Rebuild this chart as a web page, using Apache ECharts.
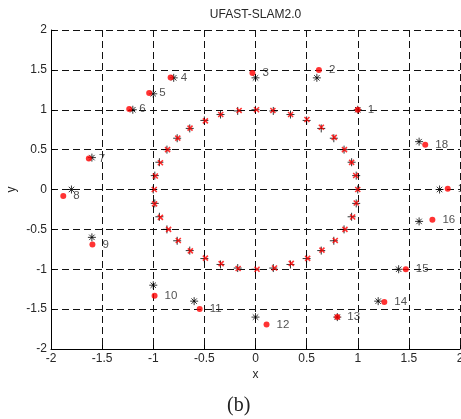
<!DOCTYPE html>
<html>
<head>
<meta charset="utf-8">
<title>UFAST-SLAM2.0</title>
<script src="https://cdn.jsdelivr.net/npm/echarts/dist/echarts.min.js"></script>
<style>
  html, body { margin: 0; padding: 0; background: #fff; }
  #chart { width: 461px; height: 419px; }
</style>
</head>
<body>
<div id="chart"></div>
<script>
// Landmark numbering
var landmarkIds = [1, 2, 3, 4, 5, 6, 7, 8, 9, 10, 11, 12, 13, 14, 15, 16, 17, 18];
// True landmark positions
var landmarkTrueX = [1, 0.6, 0, -0.8, -1, -1.2, -1.6, -1.8, -1.6, -1, -0.6, 0, 0.8, 1.2, 1.4, 1.6, 1.8, 1.6];
var landmarkTrueY = [1, 1.4, 1.4, 1.4, 1.2, 1, 0.4, 0, -0.6, -1.2, -1.4, -1.6, -1.6, -1.4, -1, -0.4, 0, 0.6];
// Estimated landmark positions
var landmarkEstX = [1.0, 0.62, -0.03, -0.83, -1.04, -1.235, -1.63, -1.88, -1.595, -0.987, -0.546, 0.108, 0.8, 1.26, 1.47, 1.73, 1.88, 1.66];
var landmarkEstY = [1.0, 1.5, 1.46, 1.405, 1.21, 1.01, 0.39, -0.08, -0.69, -1.333, -1.497, -1.694, -1.6, -1.41, -1.0, -0.38, 0.01, 0.56];

// True robot path
var pathTrueX = [1, 0.985, 0.94, 0.866, 0.766, 0.643, 0.5, 0.342, 0.174, 0, -0.174, -0.342, -0.5, -0.643, -0.766, -0.866, -0.94, -0.985,
                 -1, -0.985, -0.94, -0.866, -0.766, -0.643, -0.5, -0.342, -0.174, 0, 0.174, 0.342, 0.5, 0.643, 0.766, 0.866, 0.94, 0.985];
var pathTrueY = [0, 0.174, 0.342, 0.5, 0.643, 0.766, 0.866, 0.94, 0.985, 1, 0.985, 0.94, 0.866, 0.766, 0.643, 0.5, 0.342, 0.174,
                 0, -0.174, -0.342, -0.5, -0.643, -0.766, -0.866, -0.94, -0.985, -1, -0.985, -0.94, -0.866, -0.766, -0.643, -0.5, -0.342, -0.174];
// Estimated robot path
var pathEstX = [1.0, 0.98, 0.94, 0.87, 0.77, 0.644, 0.503, 0.343, 0.17, 0.01, -0.16, -0.34, -0.49, -0.64, -0.76, -0.86, -0.93, -0.98,
                -0.99, -0.987, -0.93, -0.85, -0.755, -0.637, -0.49, -0.336, -0.17, 0.015, 0.186, 0.35, 0.51, 0.65, 0.78, 0.875, 0.95, 0.985];
var pathEstY = [0.0, 0.176, 0.34, 0.5, 0.654, 0.78, 0.877, 0.94, 0.99, 1.0, 0.99, 0.94, 0.86, 0.77, 0.645, 0.5, 0.335, 0.17,
                0.0, -0.18, -0.35, -0.5, -0.64, -0.77, -0.86, -0.93, -0.99, -1.0, -0.985, -0.927, -0.864, -0.76, -0.64, -0.5, -0.345, -0.17];

// Axis ticks
var axisMin = -2, axisMax = 2, axisStep = 0.5;

function zip(xs, ys, ids) {
  return xs.map(function (x, i) { return ids ? [x, ys[i], ids[i]] : [x, ys[i]]; });
}

var SYM_PLUS = 'path://M0,5L10,5M5,0L5,10';
var SYM_CROSS = 'path://M0,0L10,10M0,10L10,0';
var SYM_STAR = 'path://M0,5L10,5M5,0L5,10M1.6,1.6L8.4,8.4M1.6,8.4L8.4,1.6';

var FONT = '"Liberation Sans", Arial, Helvetica, sans-serif';
var TEXT = '#262626';

function axis(name, extra) {
  return Object.assign({
    type: 'value',
    min: axisMin,
    max: axisMax,
    interval: axisStep,
    name: name,
    nameLocation: 'middle',
    nameMoveOverlap: false,
    nameTextStyle: { color: TEXT, fontSize: 12, fontFamily: FONT },
    axisLine: { show: true, onZero: false, lineStyle: { color: '#000', width: 1 } },
    axisTick: { show: true, inside: true, length: 4, lineStyle: { color: '#000' } },
    axisLabel: { color: TEXT, fontSize: 12, fontFamily: FONT },
    splitLine: { show: true, showMinLine: true, showMaxLine: true, lineStyle: { color: '#111', width: 1, type: [7, 4] } }
  }, extra);
}

var chart = echarts.init(document.getElementById('chart'), null, { renderer: 'canvas' });

var outline = function (color, w) {
  return { color: 'none', borderColor: color, borderWidth: w };
};

chart.setOption({
  animation: false,
  backgroundColor: '#fff',
  title: {
    text: 'UFAST-SLAM2.0',
    left: 255.5,
    top: 9,
    padding: 0,
    textAlign: 'center',
    textStyle: { color: TEXT, fontSize: 12, fontWeight: 'normal', fontFamily: FONT }
  },
  // plot box is fixed; the right-hand "2" tick label is allowed to run off the edge
  grid: { left: 51, right: 1, top: 30, bottom: 70, containLabel: false, outerBoundsMode: 'none' },
  xAxis: axis('x', { position: 'bottom', nameGap: 20, axisLabel: { color: TEXT, fontSize: 12, fontFamily: FONT, margin: 4 } }),
  yAxis: axis('y', { position: 'left', nameGap: 33, axisLabel: { color: TEXT, fontSize: 12, fontFamily: FONT, margin: 4 } }),
  graphic: [{
    type: 'text',
    left: 227,
    top: 396,
    style: { text: '(b)', fill: '#222', font: '20px "Liberation Serif", "Times New Roman", serif' }
  }],
  series: [
    {
      name: 'true path',
      type: 'scatter',
      symbol: SYM_PLUS,
      symbolSize: 8,
      itemStyle: outline('#000', 1),
      emphasis: { disabled: true },
      data: zip(pathTrueX, pathTrueY)
    },
    {
      name: 'true landmarks',
      type: 'scatter',
      symbol: SYM_STAR,
      symbolSize: 8,
      itemStyle: outline('#000', 1),
      emphasis: { disabled: true },
      data: zip(landmarkTrueX, landmarkTrueY)
    },
    {
      name: 'estimated path',
      type: 'scatter',
      symbol: SYM_CROSS,
      symbolSize: 5,
      itemStyle: outline('#ff0000', 1.6),
      emphasis: { disabled: true },
      data: zip(pathEstX, pathEstY)
    },
    {
      name: 'estimated landmarks',
      type: 'scatter',
      symbol: 'circle',
      symbolSize: 6,
      itemStyle: { color: '#ff0000' },
      emphasis: { disabled: true },
      label: {
        show: true,
        position: 'right',
        distance: 7,
        color: TEXT,
        fontSize: 11.5,
        fontFamily: FONT,
        formatter: function (p) { return String(p.value[2]); }
      },
      data: zip(landmarkEstX, landmarkEstY, landmarkIds)
    }
  ]
});
</script>
</body>
</html>
